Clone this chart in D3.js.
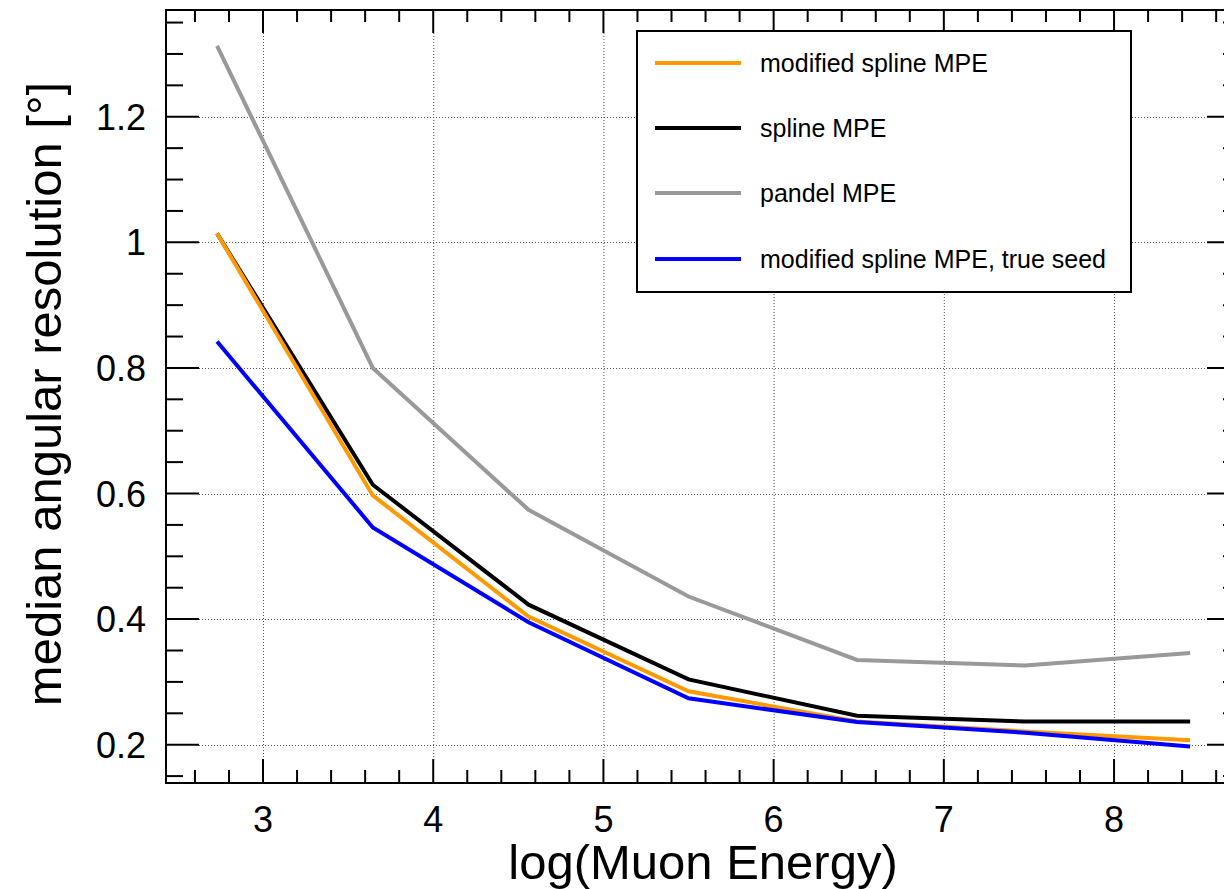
<!DOCTYPE html>
<html>
<head>
<meta charset="utf-8">
<script src="https://cdn.jsdelivr.net/npm/d3@7"></script>
<style>
  body { margin: 0; background: #fff; }
  svg { display: block; font-family: "Liberation Sans", Arial, sans-serif; }
</style>
</head>
<body>
<script>
// log(Muon Energy) bin centres
var energy = [2.73, 3.645, 4.56, 5.50, 6.49, 7.477, 8.447];

var modSpline = [1.014, 0.597, 0.404, 0.285, 0.237, 0.221, 0.207];
var spline = [1.014, 0.614, 0.423, 0.304, 0.246, 0.237, 0.237];
var pandel = [1.313, 0.80, 0.574, 0.436, 0.335, 0.326, 0.346];
var modSplineTrue = [0.842, 0.546, 0.395, 0.274, 0.236, 0.219, 0.197];

var seriesNames = ["modified spline MPE", "spline MPE", "pandel MPE", "modified spline MPE, true seed"];
var seriesColors = ["#ff9900", "#000000", "#999999", "#0000ff"];
var seriesValues = [modSpline, spline, pandel, modSplineTrue];

var xTicks = [3, 4, 5, 6, 7, 8];
var yTicks = [0.2, 0.4, 0.6, 0.8, 1, 1.2];

var W = 1224, H = 889;
var frame = {left: 166, right: 1240, top: 10, bottom: 783};

var svg = d3.select("body").append("svg")
  .attr("width", W)
  .attr("height", H);

var x = d3.scaleLinear().domain([2.43, 8.74]).range([frame.left, frame.right]);
var y = d3.scaleLinear().domain([0.139, 1.37]).range([frame.bottom, frame.top]);

var xMinor = d3.range(2.6, 8.7, 0.2).filter(function(v) { return Math.abs(v - Math.round(v)) > 0.01; });
var yMinor = d3.range(0.15, 1.36, 0.05).filter(function(v) { return Math.abs(v * 5 - Math.round(v * 5)) > 0.01; });

// grid lines (dotted) at major ticks
var grid = svg.append("g").attr("stroke", "#555").attr("stroke-width", 1).attr("stroke-dasharray", "1,2");
grid.selectAll("line.gx").data(xTicks).enter().append("line")
  .attr("x1", function(d) { return x(d) + 0.5; }).attr("x2", function(d) { return x(d) + 0.5; })
  .attr("y1", frame.top + 23).attr("y2", frame.bottom - 24);
grid.selectAll("line.gy").data(yTicks).enter().append("line")
  .attr("y1", function(d) { return Math.round(y(d)) + 0.5; }).attr("y2", function(d) { return Math.round(y(d)) + 0.5; })
  .attr("x1", frame.left + 33).attr("x2", frame.right - 33);

// data lines
var line = d3.line()
  .x(function(d, i) { return x(energy[i]); })
  .y(function(d) { return y(d); });

svg.append("g").selectAll("path").data([2, 1, 0, 3]).enter().append("path")
  .attr("d", function(k) { return line(seriesValues[k]); })
  .attr("fill", "none")
  .attr("stroke", function(k) { return seriesColors[k]; })
  .attr("stroke-width", 4)
  .attr("stroke-linejoin", "miter");

// ticks on all four sides
var ticks = svg.append("g").attr("stroke", "#000").attr("stroke-width", 2);
function tickRow(data, len, pos, side) {
  ticks.selectAll(null).data(data).enter().append("line")
    .attr("x1", function(d) { return side === "x" ? x(d) : pos; })
    .attr("x2", function(d) { return side === "x" ? x(d) : pos + len; })
    .attr("y1", function(d) { return side === "x" ? pos : y(d); })
    .attr("y2", function(d) { return side === "x" ? pos + len : y(d); });
}
tickRow(xTicks, -24, frame.bottom, "x");
tickRow(xMinor, -13, frame.bottom, "x");
tickRow(xTicks, 23, frame.top, "x");
tickRow(xMinor, 12, frame.top, "x");
tickRow(yTicks, 33, frame.left, "y");
tickRow(yMinor, 17, frame.left, "y");
tickRow(yTicks, -33, frame.right, "y");
tickRow(yMinor, -17, frame.right, "y");

svg.append("rect")
  .attr("x", frame.left).attr("y", frame.top)
  .attr("width", frame.right - frame.left).attr("height", frame.bottom - frame.top)
  .attr("fill", "none").attr("stroke", "#000").attr("stroke-width", 2);

// tick labels
svg.append("g").selectAll("text").data(xTicks).enter().append("text")
  .attr("x", function(d) { return x(d); })
  .attr("y", 832)
  .attr("text-anchor", "middle")
  .attr("font-size", 36)
  .text(function(d) { return d; });

svg.append("g").selectAll("text").data(yTicks).enter().append("text")
  .attr("x", 146)
  .attr("y", function(d) { return y(d) + 13; })
  .attr("text-anchor", "end")
  .attr("font-size", 36)
  .text(function(d) { return d; });

// axis titles
svg.append("text")
  .attr("x", 703).attr("y", 879)
  .attr("text-anchor", "middle")
  .attr("font-size", 49)
  .text("log(Muon Energy)");

svg.append("text")
  .attr("transform", "translate(61,394) rotate(-90)")
  .attr("text-anchor", "middle")
  .attr("font-size", 49)
  .text("median angular resolution [°]");

// legend
var lg = svg.append("g");
lg.append("rect")
  .attr("x", 637).attr("y", 31).attr("width", 494).attr("height", 261)
  .attr("fill", "#fff").attr("stroke", "#000").attr("stroke-width", 2);
var rowY = [63, 128, 193, 259];
seriesNames.forEach(function(name, i) {
  lg.append("line")
    .attr("x1", 655).attr("x2", 741)
    .attr("y1", rowY[i]).attr("y2", rowY[i])
    .attr("stroke", seriesColors[i]).attr("stroke-width", 4);
  lg.append("text")
    .attr("x", 760).attr("y", rowY[i] + 9)
    .attr("font-size", 25)
    .text(name);
});
</script>
</body>
</html>
